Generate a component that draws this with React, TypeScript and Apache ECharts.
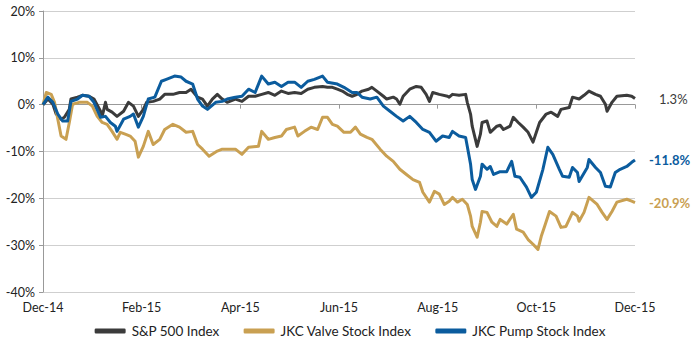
import React, { useEffect, useRef } from "react";
import * as echarts from "echarts";

const xTickLabels = ["Dec-14", "Feb-15", "Apr-15", "Jun-15", "Aug-15", "Oct-15", "Dec-15"];
const seriesNames = ["S&P 500 Index", "JKC Valve Stock Index", "JKC Pump Stock Index"];
const endLabels = ["1.3%", "-20.9%", "-11.8%"];

const spDays = [0, 3, 6, 8, 11, 13, 16, 17, 21, 24, 28, 31, 35, 36, 38, 39, 42, 45, 49, 52, 55, 58, 61, 63, 67, 71, 74, 79, 83, 87, 90, 94, 97, 100, 103, 106, 109, 112, 117, 121, 125, 129, 133, 137, 141, 145, 149, 153, 157, 161, 165, 170, 173, 176, 179, 182, 185, 188, 191, 194, 198, 200, 203, 207, 209, 213, 215, 217, 219, 223, 227, 230, 233, 235, 237, 241, 246, 247, 249, 253, 257, 258, 260, 261, 264, 266, 267, 270, 272, 276, 278, 280, 284, 286, 289, 292, 295, 298, 300, 302, 306, 309, 313, 315, 320, 322, 326, 329, 332, 336, 339, 342, 343, 346, 349, 355, 358, 360];
const spValues = [0.0, 1.2, 0.1, -2.0, -3.1, -2.7, -1.0, 1.2, 1.6, 2.0, 1.8, 1.2, -1.4, -2.5, 0.5, -1.0, -1.6, -2.5, -1.4, 0.5, -0.3, -2.5, -1.0, 0.5, 0.7, 1.2, 2.2, 2.2, 2.6, 2.6, 3.3, 1.6, 1.2, -0.3, 1.2, 2.2, 1.2, 0.5, 1.2, 0.7, 1.8, 1.8, 2.2, 2.6, 2.0, 2.9, 2.4, 2.6, 2.4, 3.3, 3.7, 3.9, 3.7, 3.7, 3.3, 2.9, 2.2, 1.8, 2.2, 2.9, 3.3, 3.7, 2.9, 1.8, 1.2, 1.6, 1.2, 0.1, 1.8, 3.3, 3.9, 3.7, 2.2, 0.7, 2.6, 2.2, 1.8, 1.6, 2.2, 2.0, 2.2, 0.5, -2.0, -4.6, -8.9, -6.3, -3.8, -3.5, -5.9, -4.6, -4.4, -5.3, -4.6, -2.7, -3.8, -4.8, -5.9, -8.0, -5.9, -3.8, -2.0, -1.6, -2.5, -1.0, -0.6, 1.6, 1.2, 2.0, 2.9, 2.2, 1.8, 0.1, -1.4, 0.5, 1.8, 2.0, 1.8, 1.3];

const valveDays = [0, 2, 5, 7, 9, 11, 14, 16, 18, 22, 27, 30, 33, 36, 39, 42, 45, 47, 50, 53, 56, 58, 61, 64, 67, 71, 74, 79, 83, 87, 91, 94, 97, 101, 106, 109, 114, 117, 121, 125, 131, 133, 137, 141, 145, 148, 153, 155, 159, 163, 167, 170, 173, 176, 179, 183, 187, 190, 193, 197, 200, 205, 209, 213, 217, 221, 225, 229, 231, 235, 238, 241, 244, 247, 249, 252, 255, 258, 260, 261, 264, 266, 267, 270, 273, 276, 278, 282, 286, 288, 292, 295, 298, 301, 303, 305, 308, 312, 315, 318, 322, 325, 326, 329, 332, 337, 340, 343, 346, 349, 355, 358, 360];
const valveValues = [0.0, 2.6, 2.2, 0.5, -3.1, -6.7, -7.4, -3.8, 0.1, 0.5, 0.5, -0.3, -2.5, -3.8, -4.2, -5.7, -7.4, -5.9, -6.3, -6.7, -7.8, -11.2, -8.9, -5.7, -8.5, -7.4, -5.3, -4.2, -4.8, -5.9, -5.7, -8.5, -9.5, -11.0, -9.9, -9.5, -9.5, -9.5, -10.6, -9.1, -8.9, -5.7, -7.4, -7.0, -6.7, -5.3, -4.8, -6.7, -5.7, -4.8, -5.3, -2.7, -2.7, -4.2, -4.6, -5.9, -5.9, -4.8, -6.3, -7.0, -7.4, -9.5, -11.0, -12.1, -13.8, -14.9, -16.0, -16.6, -18.7, -20.8, -18.5, -19.1, -21.3, -20.6, -19.8, -20.8, -20.2, -21.3, -23.8, -26.0, -28.3, -25.1, -22.8, -23.0, -25.1, -26.0, -24.5, -25.5, -23.4, -26.6, -27.2, -28.8, -29.8, -30.9, -28.1, -26.0, -22.8, -23.8, -26.2, -26.0, -23.0, -23.8, -24.9, -23.0, -19.8, -21.3, -23.0, -24.5, -22.8, -20.8, -20.2, -20.6, -20.9];

const pumpDays = [0, 3, 6, 9, 12, 15, 17, 21, 24, 28, 31, 35, 38, 41, 44, 45, 49, 53, 55, 58, 61, 64, 68, 72, 75, 80, 84, 87, 91, 94, 97, 100, 105, 109, 112, 117, 121, 125, 129, 133, 137, 141, 145, 149, 153, 157, 161, 165, 170, 173, 179, 183, 188, 191, 194, 199, 203, 207, 211, 215, 219, 223, 227, 231, 235, 239, 243, 247, 249, 253, 257, 258, 260, 261, 263, 266, 267, 270, 272, 274, 278, 282, 285, 287, 290, 294, 297, 300, 304, 307, 310, 314, 316, 320, 322, 325, 326, 331, 332, 336, 339, 342, 345, 348, 351, 355, 358, 360];
const pumpValues = [0.0, 1.6, 0.5, -2.0, -3.5, -3.5, 0.7, 1.2, 2.0, 1.8, 0.5, -2.7, -2.5, -3.8, -4.6, -5.7, -3.1, -2.5, -2.0, -4.8, -2.5, 1.2, 1.6, 5.0, 5.4, 6.1, 5.9, 5.0, 4.4, 1.2, -0.3, -1.0, 0.5, 0.7, 1.2, 1.6, 1.8, 3.3, 2.6, 6.1, 4.4, 4.8, 3.9, 4.8, 4.8, 3.7, 5.0, 5.4, 6.1, 4.8, 4.4, 3.7, 2.6, 2.6, 1.6, 1.2, 1.6, -0.3, -1.4, -2.5, -3.5, -2.5, -3.8, -5.3, -5.9, -7.8, -6.7, -7.0, -5.7, -6.7, -7.0, -8.9, -12.7, -16.0, -18.1, -15.3, -12.7, -13.8, -13.2, -14.9, -14.3, -14.3, -12.1, -15.3, -15.5, -17.6, -19.8, -18.7, -13.8, -9.1, -10.6, -13.8, -15.3, -15.5, -13.4, -14.5, -16.4, -13.4, -11.7, -13.4, -14.5, -17.4, -17.6, -14.5, -13.8, -13.2, -12.3, -11.8];

const colors = ["#3b3b3b", "#c9a052", "#0b5c9e"];
const FONT = "Lato, 'Open Sans', sans-serif";

function zip(xs: number[], ys: number[]) {
  return xs.map((x, i) => [x, ys[i]]);
}

export default function App() {
  const ref = useRef<HTMLDivElement>(null);
  useEffect(() => {
    document.body.style.margin = "0";
    if (!ref.current) return;
    const chart = echarts.init(ref.current, null, { renderer: "svg" });
    const datasets = [zip(spDays, spValues), zip(valveDays, valveValues), zip(pumpDays, pumpValues)];
    const distances = [24, 14, 14];
    const weights = ["normal", "bold", "bold"];
    chart.setOption({
      animation: false,
      grid: { left: 43, right: 65, top: 11, bottom: 66, containLabel: false },
      legend: {
        bottom: 15,
        left: "center",
        itemWidth: 31,
        itemHeight: 5,
        itemGap: 24,
        icon: "roundRect",
        textStyle: { fontFamily: FONT, fontSize: 13.5, color: "#222", padding: [0, 0, 0, 1] },
        data: seriesNames,
      },
      xAxis: {
        type: "value",
        min: 0,
        max: 360,
        interval: 60,
        axisLine: { show: true, lineStyle: { color: "#999", width: 1 } },
        axisTick: { show: true, length: 4, lineStyle: { color: "#999" } },
        splitLine: { show: false },
        axisLabel: {
          margin: 9,
          fontFamily: FONT,
          fontSize: 12.5,
          color: "#222",
          formatter: (v: number) => xTickLabels[Math.round(v / 60)] ?? "",
        },
      },
      yAxis: {
        type: "value",
        min: -40,
        max: 20,
        interval: 10,
        axisLine: { show: true, lineStyle: { color: "#999", width: 1 } },
        axisTick: { show: true, length: 4, lineStyle: { color: "#999" } },
        splitLine: { show: true, lineStyle: { color: "#cfcfcf", width: 1 } },
        axisLabel: {
          margin: 8,
          fontFamily: FONT,
          fontSize: 12.5,
          color: "#222",
          formatter: (v: number) => `${v}%`,
        },
      },
      series: seriesNames.map((name, i) => ({
        name,
        type: "line",
        data: datasets[i],
        symbol: "none",
        color: colors[i],
        lineStyle: { width: 3, color: colors[i], join: "round" },
        endLabel: {
          show: true,
          formatter: endLabels[i],
          distance: distances[i],
          color: colors[i],
          fontFamily: FONT,
          fontSize: 13,
          fontWeight: weights[i],
        },
      })),
    });
    return () => chart.dispose();
  }, []);
  return <div ref={ref} style={{ width: 700, height: 358 }} />;
}
